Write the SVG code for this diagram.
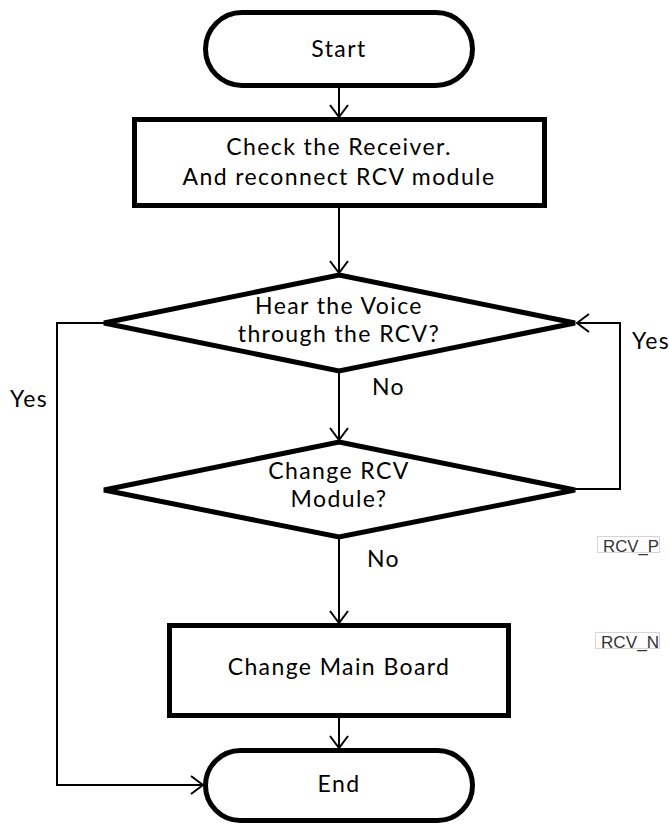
<svg xmlns="http://www.w3.org/2000/svg" width="669" height="828" viewBox="0 0 669 828">
<style>
.shape{fill:#fff;stroke:#000;stroke-width:5;stroke-linejoin:miter}
.lbl{font-family:Lato,"Open Sans",sans-serif;font-size:23px;letter-spacing:1.4px;fill:#000;text-anchor:middle}
.side{font-family:Lato,"Open Sans",sans-serif;font-size:23px;letter-spacing:1.4px;fill:#000}
.conn{fill:none;stroke:#000;stroke-width:2}
.tag{font-family:"Liberation Sans",Arial,sans-serif;font-size:17px;fill:#333}
.tagbox{fill:none;stroke:#aaa;stroke-width:1;stroke-dasharray:1 1}
</style>
<defs>
<marker id="arr" viewBox="0 0 14 20" refX="13" refY="10" markerWidth="14" markerHeight="20" markerUnits="userSpaceOnUse" orient="auto">
<path d="M1,1 L13,10 L1,19" fill="none" stroke="#000" stroke-width="2"/>
</marker>
</defs>
<rect width="669" height="828" fill="#fff"/>
<g id="connectors">
<line class="conn" x1="339" y1="86" x2="339" y2="117" marker-end="url(#arr)"/>
<line class="conn" x1="339" y1="207" x2="339" y2="273" marker-end="url(#arr)"/>
<line class="conn" x1="339" y1="371" x2="339" y2="440" marker-end="url(#arr)"/>
<line class="conn" x1="339" y1="537" x2="339" y2="623" marker-end="url(#arr)"/>
<line class="conn" x1="339" y1="717" x2="339" y2="748" marker-end="url(#arr)"/>
<polyline class="conn" points="104,323 57,323 57,785 203,785" marker-end="url(#arr)"/>
<polyline class="conn" points="575,489 620,489 620,323 577,323" marker-end="url(#arr)"/>
</g>
<g id="start">
<rect class="shape" x="205.5" y="12.5" width="267" height="73" rx="36.5" ry="36.5"/>
<text class="lbl" x="339" y="57">Start</text>
</g>
<g id="check">
<rect class="shape" x="134.5" y="119.5" width="410" height="86"/>
<text class="lbl" x="339" y="155">Check the Receiver.</text>
<text class="lbl" x="339" y="185">And reconnect RCV module</text>
</g>
<g id="hear">
<polygon class="shape" points="339,275 575,323 339,371 104,323"/>
<text class="lbl" x="339" y="314">Hear the Voice</text>
<text class="lbl" x="339" y="342">through the RCV?</text>
</g>
<g id="change-rcv">
<polygon class="shape" points="339,442 575,490 339,537 104,490"/>
<text class="lbl" x="339" y="479">Change RCV</text>
<text class="lbl" x="339" y="507">Module?</text>
</g>
<g id="change-main">
<rect class="shape" x="169.5" y="625.5" width="339" height="90"/>
<text class="lbl" x="339" y="675">Change Main Board</text>
</g>
<g id="end">
<rect class="shape" x="205.5" y="750.5" width="267" height="70" rx="35" ry="35"/>
<text class="lbl" x="339" y="792">End</text>
</g>
<g id="labels">
<text class="side" x="10" y="407">Yes</text>
<text class="side" x="632" y="349">Yes</text>
<text class="side" x="372" y="395">No</text>
<text class="side" x="367" y="567">No</text>
</g>
<g id="rcv-tags">
<rect class="tagbox" x="597.5" y="536.5" width="62" height="16"/>
<text class="tag" x="603" y="552" textLength="56" lengthAdjust="spacingAndGlyphs">RCV_P</text>
<rect class="tagbox" x="595.5" y="632.5" width="64" height="16"/>
<text class="tag" x="601" y="648" textLength="58" lengthAdjust="spacingAndGlyphs">RCV_N</text>
</g>
</svg>
